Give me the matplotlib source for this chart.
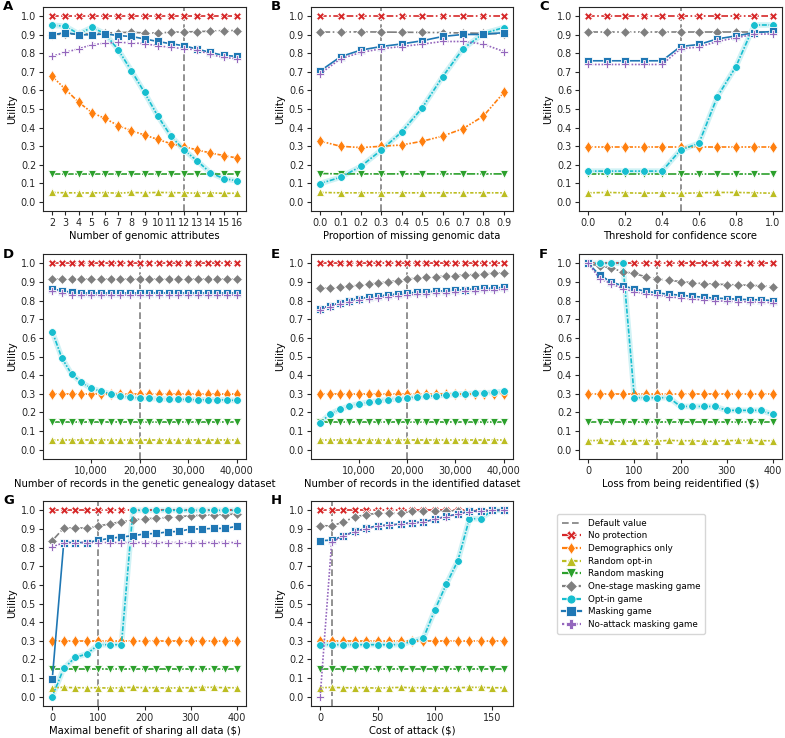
import matplotlib
matplotlib.use('Agg')
import matplotlib.pyplot as plt
from matplotlib.lines import Line2D
from matplotlib.ticker import FuncFormatter

# legend order of the strategies
names = ['No protection', 'Demographics only', 'Random opt-in', 'Random masking',
         'One-stage masking game', 'Opt-in game', 'Masking game', 'No-attack masking game']
colors = ['#d62728', '#ff7f0e', '#bcbd22', '#2ca02c', '#7f7f7f', '#17becf', '#1f77b4', '#9467bd']
markers = ['X', 'd', '^', 'v', 'D', 'o', 's', 'P']
dashes = [(4, 1.5, 1, 1.5), (3, 1, 1, 1, 1, 1), (2, 1, 1, 1), (5, 1, 1, 1),
          (6, 1.5, 1, 1.5), (3, 1, 1, 1), (), (1, 1)]
msizes = [5.2, 6.0, 5.2, 5.2, 5.0, 5.6, 5.2, 5.6]

# ---- A: number of genomic attributes
A_x = [2, 3, 4, 5, 6, 7, 8, 9, 10, 11, 12, 13, 14, 15, 16]
A_none = [1.0] * 15
A_demo = [0.676, 0.606, 0.537, 0.481, 0.449, 0.411, 0.383, 0.36, 0.336, 0.313, 0.297, 0.279, 0.263, 0.249, 0.236]
A_ropt = [0.05, 0.048, 0.048, 0.047, 0.049, 0.046, 0.05, 0.048, 0.05, 0.049, 0.048, 0.046, 0.048, 0.045, 0.046]
A_rmask = [0.15] * 15
A_onestage = [0.90, 0.905, 0.905, 0.905, 0.91, 0.912, 0.914, 0.91, 0.91, 0.914, 0.916, 0.917, 0.92, 0.923, 0.923]
A_optin = [0.952, 0.946, 0.905, 0.94, 0.907, 0.82, 0.707, 0.589, 0.463, 0.354, 0.279, 0.22, 0.156, 0.125, 0.113]
A_mask = [0.90, 0.912, 0.90, 0.90, 0.905, 0.896, 0.891, 0.878, 0.864, 0.852, 0.841, 0.823, 0.805, 0.789, 0.784]
A_noatt = [0.785, 0.805, 0.825, 0.846, 0.855, 0.859, 0.857, 0.852, 0.841, 0.832, 0.826, 0.818, 0.794, 0.778, 0.771]

# ---- B: proportion of missing genomic data
B_x = [0.0, 0.1, 0.2, 0.3, 0.4, 0.5, 0.6, 0.7, 0.8, 0.9]
B_none = [1.0] * 10
B_demo = [0.327, 0.299, 0.292, 0.299, 0.306, 0.326, 0.354, 0.394, 0.462, 0.589]
B_ropt = [0.05, 0.048, 0.048, 0.048, 0.048, 0.048, 0.048, 0.048, 0.048, 0.048]
B_rmask = [0.152, 0.15, 0.15, 0.15, 0.15, 0.15, 0.15, 0.15, 0.15, 0.15]
B_onestage = [0.915, 0.915, 0.916, 0.915, 0.914, 0.913, 0.912, 0.91, 0.908, 0.905]
B_optin = [0.098, 0.132, 0.191, 0.279, 0.377, 0.506, 0.674, 0.825, 0.907, 0.939]
B_mask = [0.705, 0.782, 0.818, 0.837, 0.851, 0.868, 0.891, 0.902, 0.902, 0.912]
B_noatt = [0.69, 0.771, 0.805, 0.825, 0.837, 0.85, 0.864, 0.864, 0.85, 0.81]

# ---- C: threshold for confidence score
C_x = [0.0, 0.1, 0.2, 0.3, 0.4, 0.5, 0.6, 0.7, 0.8, 0.9, 1.0]
C_none = [1.0] * 11
C_demo = [0.297] * 11
C_ropt = [0.048, 0.05, 0.048, 0.046, 0.048, 0.045, 0.048, 0.05, 0.05, 0.048, 0.046]
C_rmask = [0.15] * 11
C_onestage = [0.915] * 11
C_optin = [0.165, 0.165, 0.165, 0.165, 0.165, 0.279, 0.315, 0.567, 0.728, 0.953, 0.953]
C_mask = [0.76, 0.76, 0.76, 0.76, 0.76, 0.837, 0.848, 0.878, 0.894, 0.912, 0.918]
C_noatt = [0.74, 0.74, 0.74, 0.74, 0.74, 0.825, 0.834, 0.864, 0.884, 0.903, 0.905]

# ---- D: records in genetic genealogy dataset
D_x = [2000, 4000, 6000, 8000, 10000, 12000, 14000, 16000, 18000, 20000,
       22000, 24000, 26000, 28000, 30000, 32000, 34000, 36000, 38000, 40000]
D_none = [1.0] * 20
D_demo = [0.297] * 20
D_ropt = [0.05] * 20
D_rmask = [0.15] * 20
D_onestage = [0.916] * 20
D_optin = [0.634, 0.491, 0.405, 0.361, 0.33, 0.313, 0.3, 0.289, 0.282, 0.277,
           0.275, 0.273, 0.271, 0.27, 0.27, 0.268, 0.268, 0.268, 0.266, 0.264]
D_mask = [0.864, 0.852, 0.845, 0.841, 0.841, 0.841, 0.841, 0.841, 0.841, 0.841,
          0.841, 0.841, 0.841, 0.841, 0.841, 0.841, 0.841, 0.841, 0.841, 0.841]
D_noatt = [0.854, 0.839, 0.832, 0.83, 0.83, 0.83, 0.83, 0.83, 0.83, 0.83,
           0.83, 0.83, 0.83, 0.83, 0.83, 0.83, 0.83, 0.83, 0.83, 0.83]

# ---- E: records in identified dataset
E_x = D_x
E_none = [1.0] * 20
E_demo = [0.297] * 20
E_ropt = [0.05] * 20
E_rmask = [0.15] * 20
E_onestage = [0.865, 0.868, 0.872, 0.877, 0.882, 0.888, 0.895, 0.9, 0.907, 0.916,
              0.92, 0.924, 0.928, 0.931, 0.934, 0.937, 0.94, 0.943, 0.946, 0.95]
E_optin = [0.143, 0.191, 0.216, 0.234, 0.246, 0.254, 0.262, 0.268, 0.273, 0.279,
           0.282, 0.286, 0.29, 0.293, 0.297, 0.3, 0.302, 0.305, 0.307, 0.313]
E_mask = [0.757, 0.773, 0.787, 0.80, 0.81, 0.818, 0.825, 0.83, 0.836, 0.841,
          0.844, 0.847, 0.85, 0.853, 0.856, 0.859, 0.862, 0.865, 0.868, 0.871]
E_noatt = [0.75, 0.768, 0.782, 0.793, 0.802, 0.81, 0.816, 0.821, 0.826, 0.83,
           0.834, 0.837, 0.84, 0.843, 0.846, 0.849, 0.852, 0.855, 0.858, 0.86]

# ---- F: loss from being reidentified
F_x = [0, 25, 50, 75, 100, 125, 150, 175, 200, 225, 250, 275, 300, 325, 350, 375, 400]
F_none = [1.0] * 17
F_demo = [0.297] * 17
F_ropt = [0.048, 0.05, 0.048, 0.046, 0.048, 0.048, 0.046, 0.05, 0.048, 0.048, 0.045, 0.046, 0.048, 0.05, 0.05, 0.048, 0.048]
F_rmask = [0.15] * 17
F_onestage = [1.0, 0.985, 0.975, 0.954, 0.946, 0.927, 0.916, 0.909, 0.902, 0.896,
              0.891, 0.888, 0.886, 0.884, 0.882, 0.879, 0.875]
F_optin = [1.0, 1.0, 1.0, 1.0, 0.279, 0.279, 0.279, 0.279, 0.232, 0.232,
           0.232, 0.232, 0.211, 0.211, 0.211, 0.211, 0.189]
F_mask = [1.0, 0.936, 0.90, 0.879, 0.863, 0.85, 0.841, 0.834, 0.829, 0.823,
          0.818, 0.813, 0.811, 0.807, 0.805, 0.804, 0.80]
F_noatt = [1.0, 0.918, 0.891, 0.864, 0.848, 0.834, 0.829, 0.821, 0.814, 0.807,
           0.804, 0.80, 0.796, 0.795, 0.793, 0.791, 0.789]

# ---- G: maximal benefit of sharing all data
G_x = F_x
G_none = [1.0] * 17
G_demo = [0.297] * 17
G_ropt = [0.048, 0.05, 0.048, 0.048, 0.048, 0.046, 0.048, 0.05, 0.048, 0.048, 0.046, 0.048, 0.048, 0.05, 0.05, 0.048, 0.048]
G_rmask = [0.15] * 17
G_onestage = [0.837, 0.905, 0.905, 0.905, 0.916, 0.927, 0.939, 0.948, 0.955, 0.957,
              0.962, 0.966, 0.971, 0.973, 0.975, 0.975, 0.982]
G_optin = [0.0, 0.152, 0.211, 0.229, 0.279, 0.279, 0.279, 1.0, 1.0, 1.0,
           1.0, 1.0, 1.0, 1.0, 1.0, 1.0, 1.0]
G_mask = [0.093, 0.827, 0.827, 0.827, 0.839, 0.85, 0.857, 0.864, 0.873, 0.876,
          0.884, 0.887, 0.90, 0.90, 0.903, 0.903, 0.914]
G_noatt = [0.803, 0.827, 0.827, 0.827, 0.827, 0.827, 0.827, 0.827, 0.827, 0.827,
           0.827, 0.827, 0.827, 0.827, 0.827, 0.827, 0.827]

# ---- H: cost of attack
H_x = [0, 10, 20, 30, 40, 50, 60, 70, 80, 90, 100, 110, 120, 130, 140, 150, 160]
H_none = [1.0] * 17
H_demo = [0.297] * 17
H_ropt = [0.048, 0.05, 0.048, 0.048, 0.048, 0.046, 0.048, 0.05, 0.048, 0.048, 0.046, 0.048, 0.048, 0.05, 0.05, 0.048, 0.048]
H_rmask = [0.15] * 17
H_onestage = [0.918, 0.916, 0.937, 0.964, 0.977, 0.984, 0.984, 0.984, 0.995, 0.995,
              0.995, 0.997, 0.998, 0.998, 0.998, 1.0, 1.0]
H_optin = [0.279, 0.279, 0.279, 0.279, 0.279, 0.279, 0.279, 0.279, 0.297, 0.315,
           0.467, 0.605, 0.73, 0.955, 0.955, 1.0, 1.0]
H_mask = [0.837, 0.84, 0.862, 0.887, 0.903, 0.918, 0.921, 0.927, 0.934, 0.937,
          0.953, 0.968, 0.98, 0.995, 0.995, 1.0, 1.0]
H_noatt = [0.0, 0.83, 0.86, 0.885, 0.90, 0.915, 0.92, 0.925, 0.932, 0.935,
           0.952, 0.966, 0.978, 0.993, 0.995, 1.0, 1.0]

panels = [
    ('A', A_x, [A_none, A_demo, A_ropt, A_rmask, A_onestage, A_optin, A_mask, A_noatt], 12,
     'Number of genomic attributes'),
    ('B', B_x, [B_none, B_demo, B_ropt, B_rmask, B_onestage, B_optin, B_mask, B_noatt], 0.3,
     'Proportion of missing genomic data'),
    ('C', C_x, [C_none, C_demo, C_ropt, C_rmask, C_onestage, C_optin, C_mask, C_noatt], 0.5,
     'Threshold for confidence score'),
    ('D', D_x, [D_none, D_demo, D_ropt, D_rmask, D_onestage, D_optin, D_mask, D_noatt], 20000,
     'Number of records in the genetic genealogy dataset'),
    ('E', E_x, [E_none, E_demo, E_ropt, E_rmask, E_onestage, E_optin, E_mask, E_noatt], 20000,
     'Number of records in the identified dataset'),
    ('F', F_x, [F_none, F_demo, F_ropt, F_rmask, F_onestage, F_optin, F_mask, F_noatt], 150,
     r'Loss from being reidentified (\$)'),
    ('G', G_x, [G_none, G_demo, G_ropt, G_rmask, G_onestage, G_optin, G_mask, G_noatt], 100,
     r'Maximal benefit of sharing all data (\$)'),
    ('H', H_x, [H_none, H_demo, H_ropt, H_rmask, H_onestage, H_optin, H_mask, H_noatt], 10,
     r'Cost of attack (\$)'),
]

xticks = {
    'A': A_x,
    'B': B_x,
    'C': [0.0, 0.2, 0.4, 0.6, 0.8, 1.0],
    'D': [10000, 20000, 30000, 40000],
    'E': [10000, 20000, 30000, 40000],
    'F': [0, 100, 200, 300, 400],
    'G': [0, 100, 200, 300, 400],
    'H': [0, 50, 100, 150],
}

W, H = 785, 738
cols = [(43, 246), (311, 513), (579, 782)]
rows = [(7, 211), (254, 459), (501, 706)]

plt.rcParams['font.family'] = 'DejaVu Sans'
fig = plt.figure(figsize=(W / 100, H / 100), dpi=100)

for i, (letter, x, series, default, xlabel) in enumerate(panels):
    l, r = cols[i % 3]
    t, b = rows[i // 3]
    ax = fig.add_axes([l / W, 1 - b / H, (r - l) / W, (b - t) / H])
    ax.axvline(default, color='#7f7f7f', lw=1.2, dashes=(4, 2), zorder=1)
    for k, y in enumerate(series):
        if k == 5:
            # light band under the opt-in game line
            ax.plot(x, y, color=colors[k], lw=4, alpha=0.2, solid_capstyle='round', zorder=2)
        ax.plot(x, y, color=colors[k], marker=markers[k], ms=msizes[k],
                mec='white', mew=0.6, lw=1.2, dashes=dashes[k], zorder=3)
    ax.set_ylim(-0.05, 1.05)
    ax.set_yticks([0.0, 0.1, 0.2, 0.3, 0.4, 0.5, 0.6, 0.7, 0.8, 0.9, 1.0])
    ax.set_xticks(xticks[letter])
    if letter in ('D', 'E'):
        ax.xaxis.set_major_formatter(FuncFormatter(lambda v, p: f'{int(v):,}'))
    elif letter == 'B':
        ax.xaxis.set_major_formatter(FuncFormatter(lambda v, p: f'{v:.1f}'))
    ax.tick_params(labelsize=6.9, length=3, width=0.8, colors='#262626', pad=2)
    for s in ax.spines.values():
        s.set_color('#262626')
        s.set_linewidth(0.8)
    ax.set_xlabel(xlabel, fontsize=7.2, labelpad=2)
    ax.set_ylabel('Utility', fontsize=7.2, labelpad=3)
    fig.text((l - 40) / W, 1 - t / H, letter, fontsize=9.5, fontweight='bold',
             ha='left', va='center')

handles = [Line2D([], [], color='#7f7f7f', lw=1.2, dashes=(4, 2))]
for k in range(8):
    handles.append(Line2D([], [], color=colors[k], marker=markers[k], ms=6.5,
                          mec='white', mew=0.6, lw=1.6, dashes=dashes[k]))
fig.legend(handles, ['Default value'] + names, loc='upper left',
           bbox_to_anchor=(553 / W, 1 - 510 / H), fontsize=6.3, frameon=True,
           labelspacing=0.42, handlelength=2.2, borderpad=0.5, framealpha=0.8,
           edgecolor='#cccccc', fancybox=True)

fig.savefig('out.png', dpi=100)
